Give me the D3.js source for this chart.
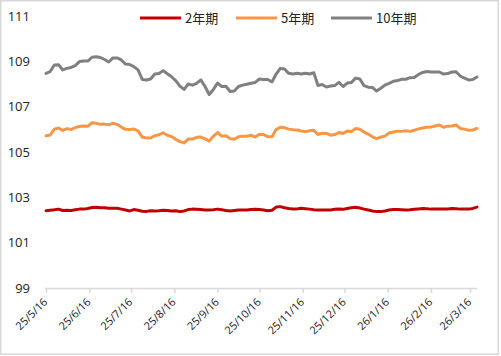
<!DOCTYPE html>
<html><head><meta charset="utf-8">
<script src="https://cdn.jsdelivr.net/npm/d3@7"></script>
<style>body{margin:0;background:#fff}svg{display:block}</style>
</head><body><svg id="c" width="501" height="356"></svg>
<script>
const dates = [
"2025-05-16","2025-05-19","2025-05-22","2025-05-25","2025-05-28","2025-05-31","2025-06-03","2025-06-06","2025-06-09","2025-06-12",
"2025-06-15","2025-06-18","2025-06-21","2025-06-24","2025-06-27","2025-06-30","2025-07-03","2025-07-06","2025-07-09","2025-07-12",
"2025-07-15","2025-07-18","2025-07-21","2025-07-24","2025-07-27","2025-07-30","2025-08-02","2025-08-05","2025-08-08","2025-08-11",
"2025-08-14","2025-08-17","2025-08-20","2025-08-23","2025-08-26","2025-08-29","2025-09-01","2025-09-04","2025-09-07","2025-09-10",
"2025-09-13","2025-09-16","2025-09-19","2025-09-22","2025-09-25","2025-09-28","2025-10-01","2025-10-04","2025-10-07","2025-10-10",
"2025-10-13","2025-10-16","2025-10-19","2025-10-22","2025-10-25","2025-10-28","2025-10-31","2025-11-03","2025-11-06","2025-11-09",
"2025-11-12","2025-11-15","2025-11-18","2025-11-21","2025-11-24","2025-11-27","2025-11-30","2025-12-03","2025-12-06","2025-12-09",
"2025-12-12","2025-12-15","2025-12-18","2025-12-21","2025-12-24","2025-12-27","2025-12-30","2026-01-02","2026-01-05","2026-01-08",
"2026-01-11","2026-01-14","2026-01-17","2026-01-20","2026-01-23","2026-01-26","2026-01-29","2026-02-01","2026-02-04","2026-02-07",
"2026-02-10","2026-02-13","2026-02-16","2026-02-19","2026-02-22","2026-02-25","2026-02-28","2026-03-03","2026-03-06","2026-03-09",
"2026-03-12","2026-03-15","2026-03-18","2026-03-21"];

const series2y = [
102.41,102.43,102.45,102.48,102.42,102.43,102.42,102.45,102.48,102.48,
102.51,102.55,102.56,102.54,102.54,102.52,102.52,102.52,102.48,102.44,
102.40,102.46,102.43,102.39,102.38,102.41,102.40,102.41,102.43,102.42,
102.40,102.41,102.37,102.40,102.46,102.48,102.47,102.46,102.44,102.44,
102.45,102.48,102.45,102.42,102.40,102.42,102.44,102.44,102.44,102.46,
102.47,102.46,102.44,102.41,102.43,102.57,102.59,102.54,102.51,102.49,
102.49,102.52,102.50,102.48,102.45,102.44,102.44,102.44,102.44,102.47,
102.48,102.47,102.51,102.54,102.56,102.53,102.48,102.44,102.40,102.37,
102.37,102.40,102.44,102.46,102.46,102.45,102.44,102.45,102.47,102.49,
102.51,102.50,102.48,102.48,102.48,102.48,102.49,102.51,102.50,102.48,
102.48,102.48,102.51,102.57];

const series5y = [
105.72,105.75,106.01,106.06,105.95,106.03,105.99,106.08,106.13,106.15,
106.14,106.29,106.27,106.22,106.23,106.20,106.27,106.22,106.10,106.00,
105.99,106.01,105.93,105.66,105.62,105.62,105.72,105.76,105.85,105.74,
105.68,105.56,105.46,105.40,105.57,105.57,105.65,105.66,105.58,105.48,
105.69,105.86,105.70,105.72,105.59,105.56,105.67,105.70,105.70,105.74,
105.66,105.78,105.77,105.68,105.67,105.99,106.09,106.07,106.01,105.98,
105.97,105.93,105.90,105.94,105.96,105.77,105.83,105.82,105.74,105.77,
105.86,105.82,105.93,105.90,106.04,106.00,105.88,105.79,105.67,105.59,
105.66,105.70,105.84,105.88,105.92,105.91,105.94,105.91,105.96,106.02,
106.06,106.09,106.10,106.15,106.19,106.09,106.14,106.15,106.19,106.04,
106.01,105.96,105.97,106.04];

const series10y = [
108.47,108.55,108.84,108.85,108.62,108.69,108.73,108.81,108.99,109.01,
109.01,109.18,109.20,109.17,109.08,108.97,109.15,109.15,109.06,108.88,
108.86,108.77,108.62,108.20,108.18,108.22,108.44,108.46,108.59,108.45,
108.32,108.15,107.91,107.76,108.00,107.95,108.03,108.18,107.89,107.54,
107.76,108.04,107.89,107.90,107.67,107.69,107.89,107.95,107.99,108.03,
108.07,108.22,108.20,108.20,108.09,108.44,108.69,108.66,108.47,108.44,
108.47,108.44,108.47,108.44,108.50,107.93,107.98,107.87,107.91,107.93,
108.07,107.89,108.04,108.07,108.26,108.22,107.93,107.86,107.85,107.69,
107.81,107.95,108.03,108.12,108.15,108.21,108.21,108.28,108.29,108.42,
108.51,108.55,108.53,108.53,108.53,108.44,108.46,108.53,108.54,108.35,
108.26,108.18,108.20,108.31];

const seriesNames = ["2年期", "5年期", "10年期"];
const seriesColors = ["#C00000", "#F79646", "#808080"];
const yTicks = [99, 101, 103, 105, 107, 109, 111];
const xTickDates = ["2025-05-16","2025-06-16","2025-07-16","2025-08-16","2025-09-16","2025-10-16",
                    "2025-11-16","2025-12-16","2026-01-16","2026-02-16","2026-03-16"];

const parse = d3.timeParse("%Y-%m-%d");
const fmt = d3.timeFormat("%y/%-m/%d");
const allSeries = [series2y, series5y, series10y];

const svg = d3.select("#c");
svg.append("rect").attr("x", 0.75).attr("y", 0.75).attr("width", 497.5).attr("height", 353.5)
  .attr("fill", "#fff").attr("stroke", "#d9d9d9").attr("stroke-width", 1.5);

const x = d3.scaleTime().domain([parse(dates[0]), parse(dates[dates.length - 1])]).range([46, 477]);
const y = d3.scaleLinear().domain([99, 111]).range([288, 16]);

// Y axis labels (no line)
const yAxis = d3.axisLeft(y).tickValues(yTicks).tickSize(0).tickPadding(0).tickFormat(d3.format("d"));
const gy = svg.append("g").attr("transform", "translate(30,0)").call(yAxis);
gy.select(".domain").remove();
gy.selectAll("text").attr("font-family", "'Segoe UI','Open Sans',sans-serif").attr("font-size", 13).attr("fill", "#222");

// X axis
const xAxis = d3.axisBottom(x).tickValues(xTickDates.map(parse)).tickSize(5).tickPadding(3).tickFormat(fmt);
const gx = svg.append("g").attr("transform", "translate(0,288)").call(xAxis);
gx.select(".domain").attr("stroke", "#d9d9d9").attr("stroke-width", 1.5).attr("d", "M45,0.5H477");
gx.selectAll(".tick line").attr("stroke", "#d9d9d9").attr("stroke-width", 1.5);
gx.selectAll("text")
  .attr("font-family", "'Open Sans',sans-serif").attr("font-size", 11).attr("fill", "#222")
  .attr("text-anchor", "end")
  .attr("transform", "translate(-1,12) rotate(-45)")
  .attr("dy", "0.35em").attr("y", 0).attr("x", 0);

// Lines
const line = d3.line().x((d, i) => x(parse(dates[i]))).y(d => y(d));
allSeries.forEach((s, k) => {
  svg.append("path").datum(s).attr("d", line).attr("fill", "none")
    .attr("stroke", seriesColors[k]).attr("stroke-width", 3)
    .attr("stroke-linejoin", "round").attr("stroke-linecap", "round");
});

// Legend
const legendX = [140, 236, 331];
seriesNames.forEach((n, k) => {
  const g = svg.append("g").attr("transform", `translate(${legendX[k]},18)`);
  g.append("line").attr("x1", 0).attr("x2", 41).attr("y1", 0).attr("y2", 0)
    .attr("stroke", seriesColors[k]).attr("stroke-width", 3);
  g.append("text").attr("x", 45).attr("y", 0).attr("dy", "0.35em")
    .attr("font-family", "'Noto Sans CJK SC',sans-serif").attr("font-size", 13).attr("fill", "#222").text(n);
});
</script>
</body></html>
